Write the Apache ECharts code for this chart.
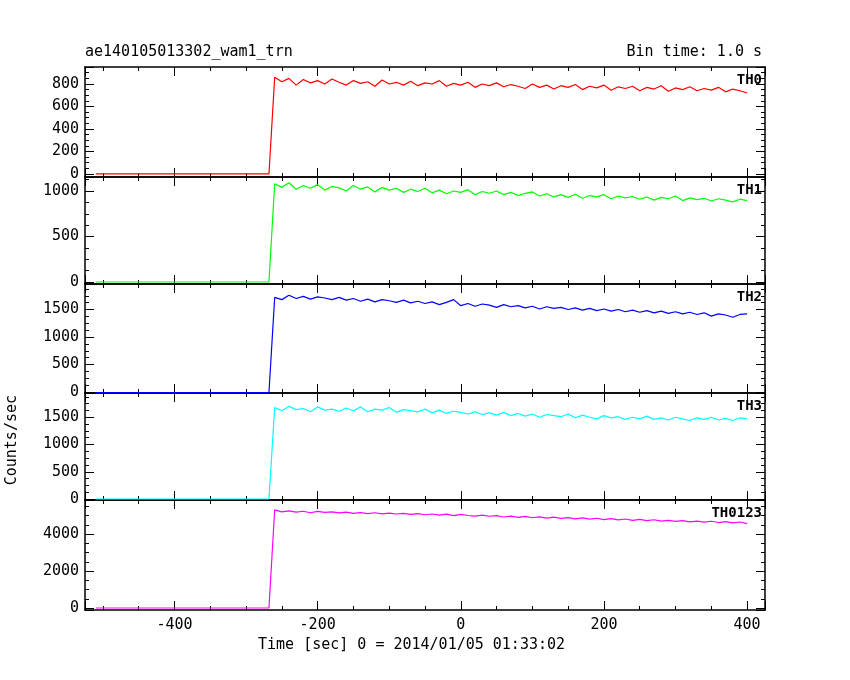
<!DOCTYPE html>
<html><head><meta charset="utf-8">
<script src="https://cdn.jsdelivr.net/npm/echarts@6/dist/echarts.min.js"></script>
<style>html,body{margin:0;background:#fff}#c{width:850px;height:680px}</style>
</head><body><div id="c"></div>
<script>
// time stamps (s): baseline start, rise, then every 10 s up to 400
const times = [-510, -268,
  -260,-250,-240,-230,-220,-210,-200,-190,-180,-170,
  -160,-150,-140,-130,-120,-110,-100,-90,-80,-70,
  -60,-50,-40,-30,-20,-10,0,10,20,30,
  40,50,60,70,80,90,100,110,120,130,
  140,150,160,170,180,190,200,210,220,230,
  240,250,260,270,280,290,300,310,320,330,
  340,350,360,370,380,390,400];

const th0 = [0, 0,
  860,820,850,790,840,810,830,800,845,815,
  790,830,805,820,780,835,800,815,790,825,
  785,810,800,830,780,805,790,815,770,800,
  785,810,775,795,780,760,800,770,790,755,
  785,770,795,750,780,765,790,745,775,760,
  780,740,770,755,785,735,765,750,775,740,
  760,745,770,730,755,740,720];
const th1 = [0, 0,
  1080,1040,1090,1020,1060,1030,1070,1010,1050,1035,
  1000,1060,1020,1045,990,1040,1010,1030,985,1020,
  995,1030,980,1010,970,1000,985,1015,960,995,
  975,1000,960,985,950,975,990,945,970,935,
  960,930,965,920,950,935,960,915,945,925,
  940,910,935,900,930,915,945,895,925,905,
  920,890,915,900,880,910,895];
const th2 = [-10, -10,
  1720,1680,1760,1700,1740,1690,1730,1710,1680,1720,
  1670,1700,1650,1690,1640,1680,1660,1630,1670,1620,
  1650,1610,1640,1590,1630,1680,1570,1610,1560,1600,
  1580,1540,1590,1550,1570,1530,1560,1510,1550,1520,
  1540,1500,1530,1490,1520,1480,1510,1470,1500,1460,
  1490,1450,1480,1440,1470,1430,1460,1420,1450,1410,
  1440,1380,1420,1400,1360,1410,1420];
const th3 = [0, 0,
  1680,1620,1700,1640,1660,1600,1690,1630,1650,1610,
  1670,1620,1690,1600,1650,1630,1680,1590,1640,1620,
  1600,1650,1580,1630,1570,1610,1590,1560,1600,1550,
  1580,1540,1590,1530,1570,1520,1560,1500,1550,1530,
  1510,1560,1490,1540,1500,1470,1530,1490,1510,1460,
  1500,1470,1520,1460,1490,1450,1500,1470,1440,1490,
  1460,1500,1450,1480,1440,1490,1470];
const th0123 = [0, 0,
  5300,5200,5250,5180,5230,5150,5220,5170,5200,5140,
  5180,5120,5160,5100,5150,5090,5130,5080,5120,5060,
  5100,5040,5080,5020,5070,4990,5060,5000,4970,5020,
  4960,4990,4920,4970,4900,4950,4880,4930,4860,4910,
  4840,4890,4820,4870,4800,4850,4780,4830,4760,4810,
  4740,4790,4720,4770,4700,4740,4680,4720,4660,4700,
  4640,4690,4620,4670,4600,4650,4560];

const panelNames = ['TH0', 'TH1', 'TH2', 'TH3', 'TH0123'];
const panelData = [th0, th1, th2, th3, th0123];
const panelColors = ['#ff0000', '#00ff00', '#0000ff', '#00ffff', '#ff00ff'];
const yRanges = [[-27, 951], [-22, 1154], [-18, 1964], [-18, 1945], [-108, 5838]];
const ySplits = [5, 2, 4, 4, 3];
const panelTops = [67, 177, 284, 393, 500];
const panelBottoms = [177, 284, 393, 500, 610];

const font = 'DejaVu Sans Mono';
const grid = [], xAxis = [], yAxis = [], series = [], graphic = [];
const axisLine = { show: true, onZero: false, lineStyle: { color: '#000', width: 1.5 } };
const tick = { inside: true, length: 9, lineStyle: { color: '#000' } };
const minor = { show: true, splitNumber: 4, length: 4, lineStyle: { color: '#000' } };
const plain = v => String(v);

panelNames.forEach((name, i) => {
  grid.push({ left: 85, right: 85, top: panelTops[i], height: panelBottoms[i] - panelTops[i] });
  const last = i === panelNames.length - 1;
  ['bottom', 'top'].forEach(pos => xAxis.push({
    type: 'value', gridIndex: i, position: pos, min: -525, max: 425, splitNumber: 5,
    axisLine, axisTick: tick, minorTick: minor, splitLine: { show: false },
    axisLabel: { show: last && pos === 'bottom', showMinLabel: false, showMaxLabel: false,
      formatter: plain, color: '#000', fontFamily: font, fontSize: 15, margin: 8 }
  }));
  ['left', 'right'].forEach(pos => yAxis.push({
    type: 'value', gridIndex: i, position: pos, min: yRanges[i][0], max: yRanges[i][1],
    splitNumber: ySplits[i], axisLine, axisTick: tick, minorTick: minor, splitLine: { show: false },
    axisLabel: { show: pos === 'left', showMinLabel: false, showMaxLabel: false, formatter: plain,
      color: '#000', fontFamily: font, fontSize: 15, margin: 6 }
  }));
  series.push({
    type: 'line', xAxisIndex: i * 2, yAxisIndex: i * 2, symbol: 'none', animation: false,
    lineStyle: { color: panelColors[i], width: 1.2 },
    data: times.map((t, k) => [t, panelData[i][k]])
  });
  graphic.push({ type: 'text', right: 88, top: panelTops[i] + 6,
    style: { text: name, font: 'bold 14px ' + font, fill: '#000' } });
});

graphic.push(
  { type: 'text', left: 85, top: 45, style: { text: 'ae140105013302_wam1_trn', font: '15px ' + font, fill: '#000' } },
  { type: 'text', right: 88, top: 45, style: { text: 'Bin time: 1.0 s', font: '15px ' + font, fill: '#000' } },
  { type: 'text', left: 5, top: 395, rotation: Math.PI / 2,
    style: { text: 'Counts/sec', font: '15px ' + font, fill: '#000' } },
  { type: 'text', left: 258, top: 638, style: { text: 'Time [sec] 0 = 2014/01/05 01:33:02', font: '15px ' + font, fill: '#000' } }
);

const chart = echarts.init(document.getElementById('c'));
chart.setOption({ animation: false, grid, xAxis, yAxis, series, graphic });
</script></body></html>
